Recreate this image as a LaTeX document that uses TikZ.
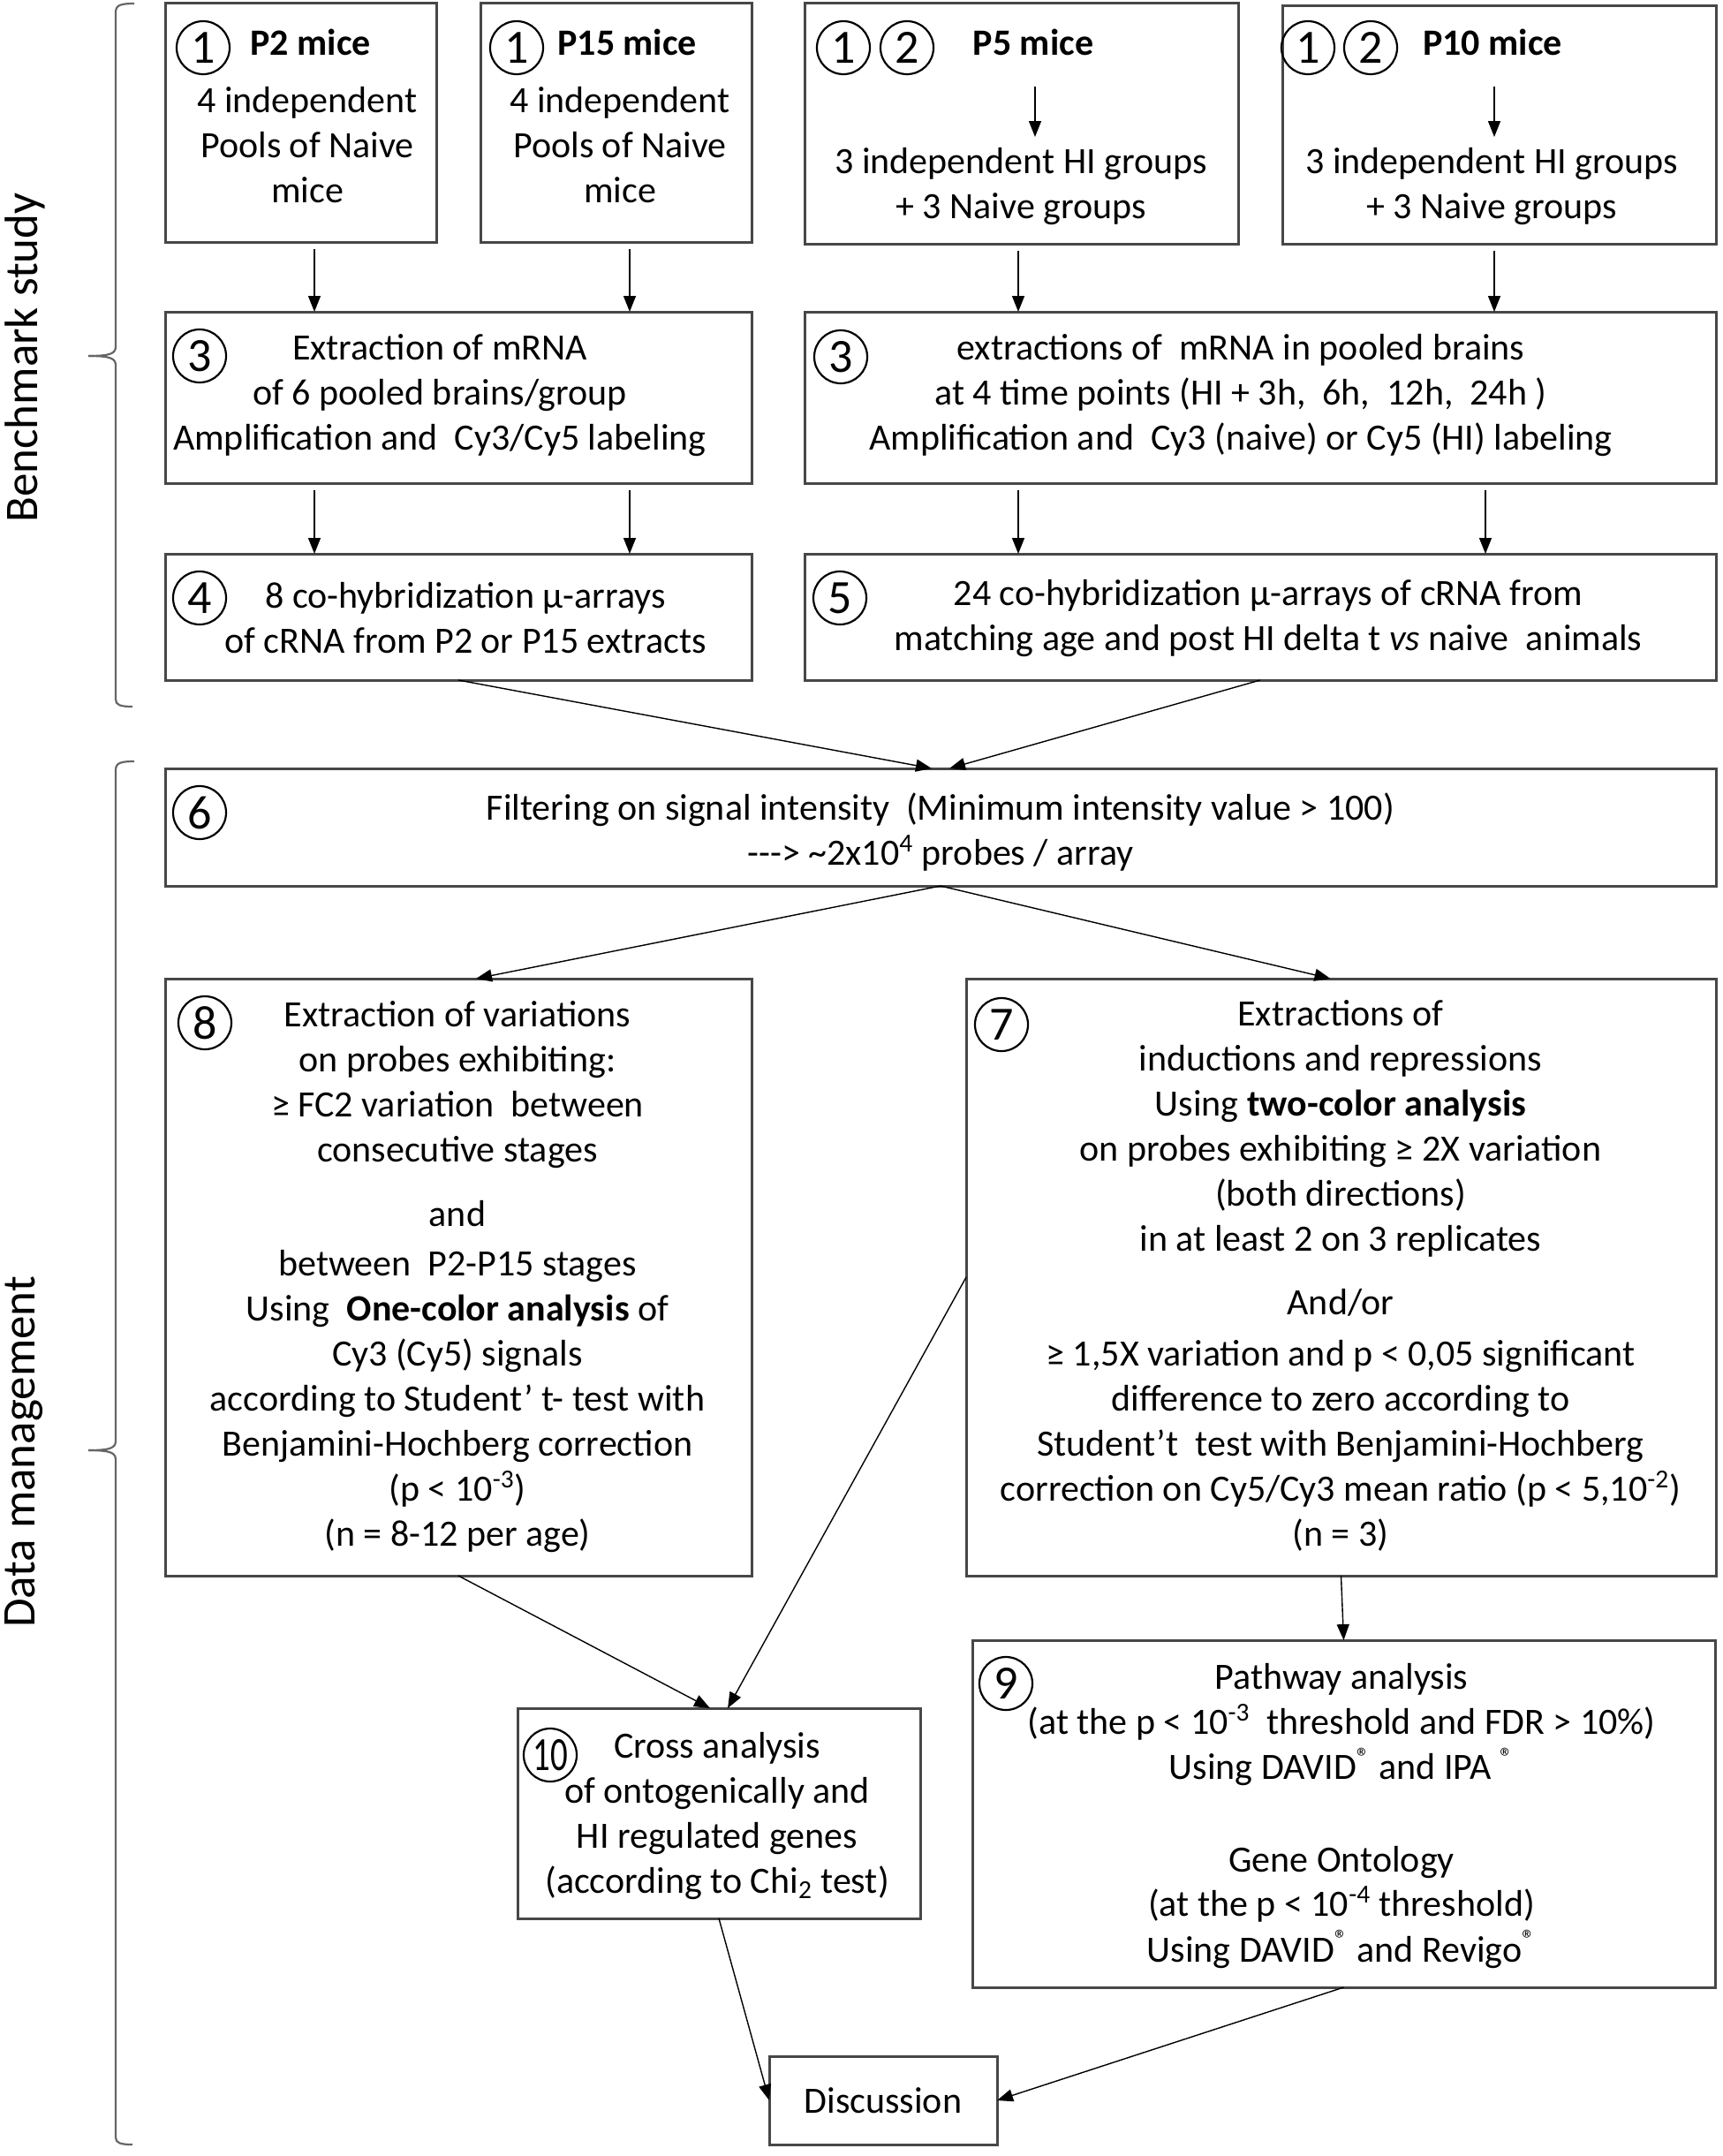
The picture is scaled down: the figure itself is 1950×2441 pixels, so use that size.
\documentclass[tikz,border=0pt]{standalone}
\usepackage{fontspec}
\setmainfont{Carlito}
\usetikzlibrary{arrows.meta,fit,calc}
\newcommand{\bodyfont}{\fontsize{21}{25.5}\selectfont}
\begin{document}
\begin{tikzpicture}[x=0.5pt,y=-0.5pt,
  box/.style={draw=black!72, line width=1.5pt, inner sep=0pt, outer sep=0pt, rectangle},
  num/.style={draw, circle, line width=1.1pt, minimum size=30pt, inner sep=0pt, font=\fontsize{27}{27}\selectfont},
  txt/.style={align=center, inner sep=0pt, font=\bodyfont},
  btxt/.style={inner sep=0pt, font=\bodyfont\bfseries},
  arr/.style={-{Triangle[length=9pt,width=7pt]}, line width=0.7pt},
  brk/.style={draw=black!60, line width=1.1pt},
  side/.style={rotate=90, font=\fontsize{26.5}{30}\selectfont, inner sep=0pt}]
\useasboundingbox (0,0) rectangle (1950,2441);

% brackets and side labels
\draw[brk] (152,4) .. controls (136,4) and (131,6) .. (131,14) -- (131,392) .. controls (131,400) and (126,403) .. (100,403);
\draw[brk] (100,403) .. controls (126,403) and (131,406) .. (131,414) -- (131,792) .. controls (131,798) and (136,800) .. (150,800);
\draw[brk] (152,862) .. controls (136,862) and (131,864) .. (131,872) -- (131,1631) .. controls (131,1639) and (126,1642) .. (100,1642);
\draw[brk] (100,1642) .. controls (126,1642) and (131,1645) .. (131,1653) -- (131,2420) .. controls (131,2426) and (136,2428) .. (150,2428);
\node[side] (lbench) at (28,405) {Benchmark study};
\node[side] (ldata) at (27,1644) {Data management};

% boxes
\node[box, fit={(187,3) (494,274)}] (p2) {};
\node[box, fit={(544,3) (851,274)}] (p15) {};
\node[box, fit={(911,3) (1402,276)}] (p5) {};
\node[box, fit={(1452,6) (1943,276)}] (p10) {};
\node[box, fit={(187,353) (851,547)}] (e3l) {};
\node[box, fit={(911,353) (1943,547)}] (e3r) {};
\node[box, fit={(187,627) (851,770)}] (h4) {};
\node[box, fit={(911,627) (1943,770)}] (h5) {};
\node[box, fit={(187,870) (1943,1003)}] (f6) {};
\node[box, fit={(187,1108) (851,1784)}] (v8) {};
\node[box, fit={(1094,1108) (1943,1784)}] (i7) {};
\node[box, fit={(586,1934) (1042,2172)}] (c10) {};
\node[box, fit={(1101,1857) (1942,2250)}] (pa9) {};
\node[box, fit={(871,2328) (1129,2428)}] (disc) {};

% P2
\node[num] (n2a) at (230,54) {1};
\node[btxt, anchor=west] (t2h) at (283,48) {P2 mice};
\node[txt] (t2) at (348,164) {4 independent\\Pools of Naive\\mice};
% P15
\node[num] (n15a) at (585,54) {1};
\node[btxt, anchor=west] (t15h) at (631,48) {P15 mice};
\node[txt] (t15) at (702,164) {4 independent\\Pools of Naive\\mice};
% P5
\node[num] (n5a) at (955,54) {1};
\node[num] (n5b) at (1027,54) {2};
\node[btxt] (t5h) at (1170,48) {P5 mice};
\node[txt] (t5) at (1156,211) {3 independent HI groups\\+ 3 Naive groups};
\coordinate (p5i1) at (1172,98);
\coordinate (p5i2) at (1172,155);
\draw[arr] (p5i1) -- (p5i2);
% P10
\node[num] (n10a) at (1481,54) {1};
\node[num] (n10b) at (1552,54) {2};
\node[btxt] (t10h) at (1690,48) {P10 mice};
\node[txt] (t10) at (1689,211) {3 independent HI groups\\+ 3 Naive groups};
\coordinate (p10i1) at (1692,98);
\coordinate (p10i2) at (1692,155);
\draw[arr] (p10i1) -- (p10i2);

% step 3
\node[num] (n3l) at (226,403) {3};
\node[txt] (t3l) at (498,448) {Extraction of mRNA\\of 6 pooled brains/group\\Amplification and~ Cy3/Cy5 labeling};
\node[num] (n3r) at (952,404) {3};
\node[txt] (t3r) at (1405,448) {extractions of~ mRNA in pooled brains\\at 4 time points (HI + 3h,~ 6h,~ 12h,~ 24h )\\Amplification and~ Cy3 (naive) or Cy5 (HI) labeling};

% step 4 / 5
\node[num] (n4) at (226,677) {4};
\node[txt] (t4) at (527,700) {8 co-hybridization µ-arrays\\of cRNA from P2 or P15 extracts};
\node[num] (n5) at (951,677) {5};
\node[txt] (t5b) at (1436,700) {24 co-hybridization µ-arrays of cRNA from\\matching age and post HI delta t \textit{vs} naive~ animals};

% step 6
\node[num] (n6) at (226,920) {6};
\node[txt] (t6) at (1065,942) {Filtering on signal intensity~ (Minimum intensity value > 100)\\{-}{-}{-}> \textasciitilde 2x10\textsuperscript{4} probes / array};

% step 8
\node[num] (n8) at (232,1158) {8};
\node[txt] (t8a) at (518,1228) {Extraction of variations\\on probes exhibiting:\\≥ FC2 variation~ between\\consecutive stages};
\node[txt] (t8b) at (518,1374) {and};
\node[txt] (t8c) at (518,1587) {between~ P2-P15 stages\\Using~ \textbf{One-color analysis} of\\Cy3 (Cy5) signals\\according to Student' t- test with\\Benjamini-Hochberg correction\\(p < 10\textsuperscript{-3})\\(n = 8-12 per age)};

% step 7
\node[num] (n7) at (1134,1160) {7};
\node[txt] (t7a) at (1518,1278) {Extractions of\\inductions and repressions\\Using \textbf{two-color analysis}\\on probes exhibiting ≥ 2X variation\\(both directions)\\in at least 2 on 3 replicates};
\node[txt] (t7b) at (1518,1475) {And/or};
\node[txt] (t7c) at (1518,1637) {≥ 1,5X variation and p < 0,05 significant\\difference to zero according to\\Student't~ test with Benjamini-Hochberg\\correction on Cy5/Cy3 mean ratio (p < 5,10\textsuperscript{-2})\\(n = 3)};

% step 9
\node[num] (n9) at (1139,1906) {9};
\node[txt] (t9a) at (1519,1953) {Pathway analysis\\(at the p < 10\textsuperscript{-3}~ threshold and FDR > 10\%)\\Using DAVID\textsuperscript{®} and IPA \textsuperscript{®}};
\node[txt] (t9b) at (1519,2159) {Gene Ontology\\(at the p < 10\textsuperscript{-4} threshold)\\Using DAVID\textsuperscript{®} and Revigo\textsuperscript{®}};

% step 10
\node[num] (n10) at (623,1987) {\scalebox{0.72}[1]{10}};
\node[txt] (t10) at (812,2056) {Cross analysis\\of ontogenically and\\HI regulated genes\\(according to Chi\textsubscript{2} test)};

% discussion
\node[txt] (tdisc) at (disc.center) {Discussion};

% connectors
\coordinate (xa) at (356,0);
\coordinate (xb) at (713,0);
\coordinate (xc) at (1153,0);
\coordinate (xd) at (1692,0);
\coordinate (xe) at (1682,0);
\draw[arr, shorten <=4pt] (p2.south -| xa) -- (e3l.north -| xa);
\draw[arr, shorten <=4pt] (p15.south -| xb) -- (e3l.north -| xb);
\draw[arr, shorten <=4pt] (p5.south -| xc) -- (e3r.north -| xc);
\draw[arr, shorten <=4pt] (p10.south -| xd) -- (e3r.north -| xd);
\draw[arr, shorten <=4pt] (e3l.south -| xa) -- (h4.north -| xa);
\draw[arr, shorten <=4pt] (e3l.south -| xb) -- (h4.north -| xb);
\draw[arr, shorten <=4pt] (e3r.south -| xc) -- (h5.north -| xc);
\draw[arr, shorten <=4pt] (e3r.south -| xe) -- (h5.north -| xe);
\draw[arr] (h4.south) -- ($(f6.north)+(-10,0)$);
\draw[arr] (h5.south) -- ($(f6.north)+(10,0)$);
\draw[arr] (f6.south) -- ($(v8.north)+(20,0)$);
\draw[arr] (f6.south) -- ($(i7.north)+(-12,0)$);
\draw[arr] (v8.south) -- ($(c10.north)+(-10,0)$);
\draw[arr] (i7.west) -- ($(c10.north)+(10,0)$);
\draw[arr] (i7.south) -- (pa9.north);
\draw[arr] (c10.south) -- (disc.west);
\draw[arr] (pa9.south) -- (disc.east);
\end{tikzpicture}
\end{document}
